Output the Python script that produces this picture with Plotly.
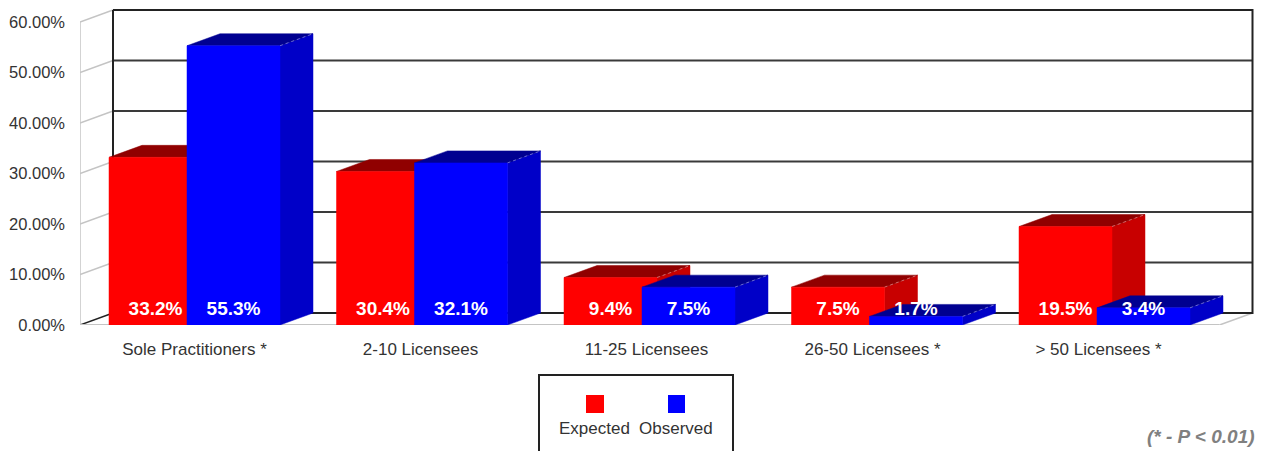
import plotly.graph_objects as go

categories = ["Sole Practitioners *", "2-10 Licensees", "11-25 Licensees", "26-50 Licensees *", "> 50 Licensees *"]
expected = [33.2, 30.4, 9.4, 7.5, 19.5]
observed = [55.3, 32.1, 7.5, 1.7, 3.4]
y_ticks = [0, 10, 20, 30, 40, 50, 60]
footnote = "(* - P < 0.01)"
legend_names = ["Expected", "Observed"]

W, H = 1262, 451
PX_LEFT, PX_RIGHT, PX_TOP, PX_BOTTOM = 80, 1260, 3, 325
PX_WALL_RIGHT, PX_WALL_TOP = 1252.5, 10
PX_PER_CAT = 227.5
PX_PER_VAL = 5.05
CENTER0 = 194.5
XU = 1 / PX_PER_CAT
BAR_W = 93 * XU
BLUE_OFF = 78 * XU
DX = 33 * XU
DY = 12 / PX_PER_VAL
X_MIN = (PX_LEFT - CENTER0) * XU
X_MAX = (PX_RIGHT - CENTER0) * XU
Y_MAX = (PX_BOTTOM - PX_TOP) / PX_PER_VAL
WALL_R = (PX_WALL_RIGHT - CENTER0) * XU
WALL_T = (PX_BOTTOM - PX_WALL_TOP) / PX_PER_VAL
FRONT_RIGHT = WALL_R - DX

fig = go.Figure()


def line(xs, ys, color, width, dash="solid"):
    fig.add_trace(go.Scatter(x=xs, y=ys, mode="lines", showlegend=False, hoverinfo="skip",
                             line=dict(color=color, width=width, dash=dash), cliponaxis=False))


def face(xs, ys, color):
    fig.add_trace(go.Scatter(x=xs + xs[:1], y=ys + ys[:1], mode="lines", fill="toself", fillcolor=color,
                             showlegend=False, hoverinfo="skip", line=dict(color=color, width=0.5),
                             cliponaxis=False))


# walls and grid
WALL = "#222222"
SIDE = "#c4c4c4"
for v in y_ticks[1:-1]:
    line([X_MIN + DX, WALL_R], [v + DY, v + DY], "#3a3a3a", 2)
for v in y_ticks:
    if v == 0:
        line([X_MIN, X_MIN + DX], [v, v + DY], WALL, 1.5)
    else:
        line([X_MIN, X_MIN + DX], [v, v + DY], SIDE, 1.5)
line([X_MIN, X_MIN], [0, y_ticks[-1]], SIDE, 1.5)
line([X_MIN, FRONT_RIGHT], [0, 0], SIDE, 2)
line([FRONT_RIGHT, WALL_R], [0, DY], SIDE, 1.5)
line([X_MIN + DX, WALL_R, WALL_R, X_MIN + DX, X_MIN + DX],
     [WALL_T, WALL_T, DY, DY, WALL_T], WALL, 2)


def bar(left, value, front, side, top, edge):
    right = left + BAR_W
    face([right, right + DX, right + DX, right], [0, DY, value + DY, value], side)
    face([left, left + DX, right + DX, right], [value, value + DY, value + DY, value], top)
    face([left, right, right, left], [0, 0, value, value], front)
    line([right, right + DX], [value, value + DY], edge, 0.8, "dot")


for i in range(len(categories)):
    start = i - (BAR_W + BLUE_OFF) / 2
    bar(start, expected[i], "#ff0000", "#c80000", "#900000", "#e08080")
    bar(start + BLUE_OFF, observed[i], "#0000ff", "#0000c8", "#000090", "#8080e0")

# value labels
LABEL_Y = 2.9
LABEL_FONT = dict(family="Liberation Sans", size=19, color="white", weight="bold")
for values, off in ((expected, 0), (observed, BLUE_OFF)):
    fig.add_trace(go.Scatter(
        x=[i - (BAR_W + BLUE_OFF) / 2 + off + BAR_W / 2 for i in range(len(values))],
        y=[LABEL_Y] * len(values),
        text=[f"{v:.1f}%" for v in values],
        mode="text", textposition="middle center", textfont=LABEL_FONT,
        showlegend=False, hoverinfo="skip", cliponaxis=False))


def px(x):
    return x / W


def py(y):
    return 1 - y / H


shapes = [
    dict(type="path", xref="paper", yref="paper",
         path=f"M {px(539)} {py(460)} L {px(539)} {py(375)} L {px(733)} {py(375)} L {px(733)} {py(460)}",
         line=dict(color="#222222", width=2)),
    dict(type="rect", xref="paper", yref="paper", x0=px(586), x1=px(604), y0=py(413), y1=py(395),
         fillcolor="#ff0000", line=dict(width=0)),
    dict(type="rect", xref="paper", yref="paper", x0=px(668), x1=px(685), y0=py(413), y1=py(395),
         fillcolor="#0000ff", line=dict(width=0)),
]
TEXT_FONT = dict(family="Liberation Sans", size=17, color="#333333")
Y_FONT = dict(family="Liberation Sans", size=16.5, color="#333333")
annotations = [
    dict(text=legend_names[0], x=px(594), y=py(428), xref="paper", yref="paper", showarrow=False,
         xanchor="center", yanchor="middle", font=TEXT_FONT),
    dict(text=legend_names[1], x=px(676), y=py(428), xref="paper", yref="paper", showarrow=False,
         xanchor="center", yanchor="middle", font=TEXT_FONT),
    dict(text=f"<b><i>{footnote}</i></b>", x=px(1201), y=py(436), xref="paper", yref="paper", showarrow=False,
         xanchor="center", yanchor="middle",
         font=dict(family="Liberation Sans", size=19, color="#808080")),
]

fig.update_layout(
    width=W, height=H, margin=dict(l=0, r=0, t=0, b=0), autosize=False,
    paper_bgcolor="white", plot_bgcolor="white", showlegend=False,
    shapes=shapes, annotations=annotations,
    xaxis=dict(domain=[px(PX_LEFT), px(PX_RIGHT)], range=[X_MIN, X_MAX], showgrid=False, zeroline=False,
               tickmode="array", tickvals=[i * 226 / PX_PER_CAT for i in range(len(categories))],
               ticktext=categories, ticks="", ticklabelstandoff=12, automargin=False, tickfont=TEXT_FONT),
    yaxis=dict(domain=[py(PX_BOTTOM), py(PX_TOP)], range=[0, Y_MAX], showgrid=False, zeroline=False,
               tickmode="array", tickvals=y_ticks, ticktext=[f"{v:.2f}%" for v in y_ticks], ticks="",
               ticklabelstandoff=14, automargin=False, tickfont=Y_FONT),
)

fig.write_html("out.html", config={"displayModeBar": False},
               post_script="document.body.style.margin='0';document.body.style.overflow='hidden';")
